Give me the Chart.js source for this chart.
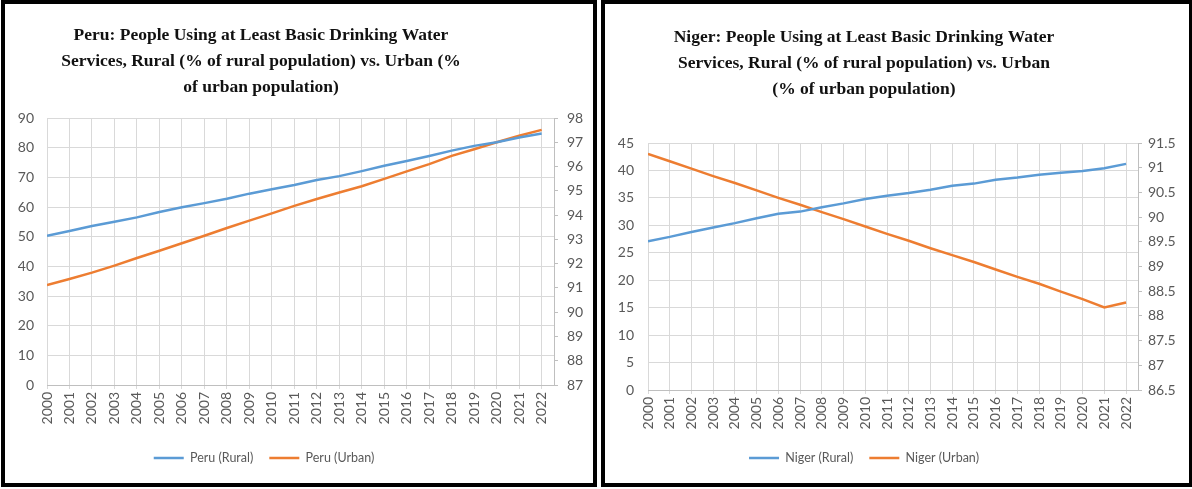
<!DOCTYPE html>
<html>
<head>
<meta charset="utf-8">
<title>Basic drinking water services: Peru and Niger</title>
<script src="https://cdn.jsdelivr.net/npm/chart.js@4.4.0/dist/chart.umd.min.js"></script>
<style>
  body { margin: 0; background: #fff; width: 1192px; height: 489px; overflow: hidden; position: relative; }
  .panel { position: absolute; top: 0; height: 487px; box-sizing: border-box; border: 4px solid #000; background: #fff; }
  #peruBox { left: 1px; width: 596px; }
  #nigerBox { left: 601px; width: 592px; }
  canvas { display: block; }
</style>
</head>
<body>
<div class="panel" id="peruBox"><canvas id="peru" width="588" height="479"></canvas></div>
<div class="panel" id="nigerBox"><canvas id="niger" width="584" height="479"></canvas></div>
<script>
const years = [2000, 2001, 2002, 2003, 2004, 2005, 2006, 2007, 2008, 2009, 2010, 2011,
               2012, 2013, 2014, 2015, 2016, 2017, 2018, 2019, 2020, 2021, 2022];

// Peru, % of population with at least basic drinking water
const peruRural = [50.3, 51.9, 53.6, 55.0, 56.5, 58.3, 59.9, 61.3, 62.8, 64.5, 66.0, 67.4,
                   69.1, 70.4, 72.1, 73.9, 75.5, 77.2, 79.0, 80.6, 81.8, 83.4, 84.8];
const peruUrban = [91.12, 91.37, 91.63, 91.92, 92.23, 92.53, 92.84, 93.15, 93.47, 93.77, 94.07, 94.38,
                   94.66, 94.93, 95.19, 95.49, 95.80, 96.10, 96.44, 96.71, 97.00, 97.27, 97.51];

// Niger
const nigerRural = [27.1, 27.9, 28.8, 29.6, 30.4, 31.3, 32.1, 32.5, 33.3, 34.0, 34.8, 35.4,
                    35.9, 36.5, 37.2, 37.6, 38.3, 38.7, 39.2, 39.6, 39.9, 40.4, 41.2];
const nigerUrban = [91.28, 91.13, 90.98, 90.83, 90.69, 90.54, 90.39, 90.25, 90.10, 89.96, 89.81, 89.66,
                    89.52, 89.37, 89.23, 89.09, 88.94, 88.79, 88.65, 88.49, 88.34, 88.17, 88.27];

const peruTitle = ['Peru: People Using at Least Basic Drinking Water',
                   'Services, Rural (% of rural population) vs. Urban (%',
                   'of urban population)'];
const nigerTitle = ['Niger: People Using at Least Basic Drinking Water',
                    'Services, Rural (% of rural population) vs. Urban',
                    '(% of urban population)'];

const peruLeftTicks = [0, 90, 10];
const peruRightTicks = [87, 98, 1];
const nigerLeftTicks = [0, 45, 5];
const nigerRightTicks = [86.5, 91.5, 0.5];

const BLUE = '#5b9bd5';
const ORANGE = '#ed7d31';
const GRID = '#d9d9d9';
const AXIS = '#bfbfbf';
const TEXT = '#595959';

// title and legend sit a little left of centre, like in the Excel sheet
const blockShift = {
  id: 'blockShift',
  afterLayout(chart, args, opts) {
    if (chart.titleBlock && opts.titleDx) {
      chart.titleBlock.left += opts.titleDx;
      chart.titleBlock.right += opts.titleDx;
    }
    if (chart.legend && opts.legendDx) {
      chart.legend.left += opts.legendDx;
      chart.legend.right += opts.legendDx;
    }
  }
};

const fmt = v => String(Math.round(v * 10) / 10);

function lineChart(id, s) {
  const ctx = document.getElementById(id).getContext('2d');
  return new Chart(ctx, {
    type: 'line',
    data: {
      labels: years,
      datasets: [{
        label: s.ruralName,
        data: s.rural,
        borderColor: BLUE,
        backgroundColor: BLUE,
        borderWidth: 2.5,
        pointRadius: 0,
        tension: 0,
        yAxisID: 'y'
      }, {
        label: s.urbanName,
        data: s.urban,
        borderColor: ORANGE,
        backgroundColor: ORANGE,
        borderWidth: 2.5,
        pointRadius: 0,
        tension: 0,
        yAxisID: 'y1'
      }]
    },
    options: {
      responsive: false,
      animation: false,
      devicePixelRatio: 1,
      layout: { padding: { bottom: 8.75 } },
      scales: {
        x: {
          type: 'linear',
          min: years[0],
          max: years[years.length - 1] + 0.55,
          grid: { color: GRID, tickLength: 4 },
          border: { color: AXIS },
          ticks: {
            stepSize: 1,
            includeBounds: false,
            autoSkip: false,
            maxRotation: 90,
            minRotation: 90,
            padding: 3,
            color: TEXT,
            font: { family: 'Lato', size: 14 },
            callback: v => Number.isInteger(v) ? String(v) : ''
          },
          afterFit(scale) { scale.height = s.xHeight; }
        },
        y: {
          position: 'left',
          min: s.left[0], max: s.left[1],
          grid: { color: GRID, drawTicks: false },
          border: { display: false },
          ticks: { stepSize: s.left[2], padding: s.leftPad, color: TEXT, font: { family: 'Lato', size: 14 }, callback: fmt },
          afterFit(scale) { scale.width = s.leftW; }
        },
        y1: {
          position: 'right',
          min: s.right[0], max: s.right[1],
          grid: { drawOnChartArea: false, color: AXIS, tickLength: 4 },
          border: { color: AXIS },
          ticks: { stepSize: s.right[2], padding: s.rightPad, color: TEXT, font: { family: 'Lato', size: 14 }, callback: fmt },
          afterFit(scale) { scale.width = s.rightW; }
        }
      },
      plugins: {
        title: {
          display: true,
          text: s.title,
          color: '#111',
          font: { family: 'Liberation Serif', size: 17.5, weight: 'bold', lineHeight: 26 / 17.5 },
          padding: { top: s.titleTop, bottom: s.titleBottom }
        },
        legend: {
          position: 'bottom',
          labels: {
            usePointStyle: true,
            pointStyle: 'line',
            pointStyleWidth: 30,
            boxWidth: 20,
            padding: 16,
            color: TEXT,
            font: { family: 'Lato', size: 12.5 }
          }
        },
        blockShift: { titleDx: s.titleDx, legendDx: s.legendDx },
        tooltip: { enabled: false }
      }
    },
    plugins: [blockShift]
  });
}

lineChart('peru', {
  title: peruTitle,
  ruralName: 'Peru (Rural)', urbanName: 'Peru (Urban)',
  rural: peruRural, urban: peruUrban,
  left: peruLeftTicks, right: peruRightTicks,
  leftW: 42, rightW: 39, leftPad: 13, rightPad: 9,
  xHeight: 50.75, titleTop: 18, titleBottom: 18,
  titleDx: -38, legendDx: -35
});

lineChart('niger', {
  title: nigerTitle,
  ruralName: 'Niger (Rural)', urbanName: 'Niger (Urban)',
  rural: nigerRural, urban: nigerUrban,
  left: nigerLeftTicks, right: nigerRightTicks,
  leftW: 43, rightW: 51, leftPad: 14, rightPad: 6,
  xHeight: 45.75, titleTop: 20, titleBottom: 41,
  titleDx: -33, legendDx: -33
});
</script>
</body>
</html>
